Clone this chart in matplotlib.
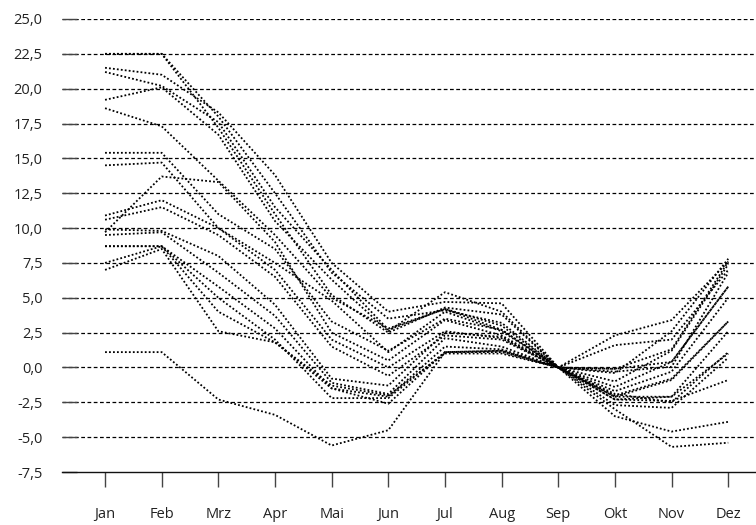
import matplotlib
matplotlib.use("Agg")
import matplotlib.pyplot as plt
from matplotlib.ticker import FuncFormatter

plt.rcParams['font.family'] = ['Open Sans', 'DejaVu Sans']

months = ["Jan", "Feb", "Mrz", "Apr", "Mai", "Jun", "Jul", "Aug", "Sep", "Okt", "Nov", "Dez"]

s01 = [22.5, 22.5, 17.2, 11.0, 5.2, 2.5, 4.3, 3.8, 0, -0.4, 2.6, 7.8]
s02 = [21.5, 21.0, 18.3, 13.8, 7.5, 4.0, 4.7, 4.6, 0, 2.3, 3.4, 7.6]
s03 = [21.2, 20.2, 17.6, 11.5, 7.0, 2.7, 4.2, 3.0, 0, -1.0, 1.2, 7.4]
s04 = [19.2, 20.1, 16.7, 10.5, 6.3, 2.6, 5.4, 4.0, 0, 1.6, 2.0, 7.0]
s05 = [22.5, 22.5, 18.0, 12.5, 6.8, 3.5, 4.1, 3.2, 0, -0.1, 1.3, 7.6]
s06 = [18.6, 17.3, 13.4, 9.5, 5.0, 2.8, 4.2, 2.7, 0, -1.4, 0.4, 5.8]
s07 = [15.4, 15.4, 11.0, 8.5, 3.3, 1.2, 3.5, 2.7, 0, -1.7, -0.3, 5.0]
s08 = [14.5, 14.7, 10.0, 7.5, 4.8, 1.1, 4.0, 2.6, 0, -0.3, 0.05, 6.8]
s09 = [9.7, 13.7, 13.3, 9.0, 2.5, 0.5, 3.4, 2.3, 0, -2.1, -0.9, 3.3]
s10 = [10.9, 12.0, 10.0, 7.0, 2.0, 0.0, 2.6, 2.1, 0, -2.3, -2.1, 2.6]
s11 = [10.6, 11.5, 9.5, 6.5, 1.5, -0.6, 2.3, 2.0, 0, -1.9, -2.5, 1.1]
s12 = [9.9, 9.8, 8.0, 4.5, -0.8, -1.3, 2.5, 2.2, 0, -2.7, -2.9, 0.7]
s13 = [9.5, 9.7, 6.8, 3.7, -1.1, -1.9, 2.1, 1.5, 0, -2.3, -2.4, -0.9]
s14 = [8.7, 8.7, 5.8, 2.8, -1.5, -2.1, 1.5, 1.3, 0, -2.1, -2.1, 1.0]
s15 = [8.7, 8.7, 5.0, 2.0, -2.2, -2.2, 1.1, 1.1, 0, -2.0, -0.8, 3.3]
s16 = [7.5, 8.7, 4.0, 1.8, -1.5, -2.6, 1.1, 1.2, 0, -3.5, -4.6, -3.9]
s17 = [7.0, 8.5, 2.6, 1.8, -1.3, -2.0, 1.0, 1.0, 0, -3.0, -5.7, -5.4]
s18 = [1.1, 1.1, -2.3, -3.4, -5.6, -4.5, 1.1, 1.2, 0, -0.1, 0.4, 5.8]

series = [s01, s02, s03, s04, s05, s06, s07, s08, s09, s10, s11, s12,
          s13, s14, s15, s16, s17, s18]

yticks = [-7.5, -5.0, -2.5, 0.0, 2.5, 5.0, 7.5, 10.0, 12.5, 15.0, 17.5, 20.0, 22.5, 25.0]

fig = plt.figure(figsize=(7.56, 5.25), dpi=100)
ax = fig.add_axes([62/756, 1 - 472/525, (756 - 62)/756, (472 - 19)/525])

x = list(range(len(months)))
for s in series:
    ax.plot(x, s, color='black', linestyle=(0, (1, 1.2)), linewidth=1.3, zorder=3)

ax.set_xlim(-0.76, 11.49)
ax.set_ylim(-7.5, 25.0)
ax.set_yticks(yticks)
ax.yaxis.set_major_formatter(FuncFormatter(lambda v, p: f"{v:.1f}".replace('.', ',')))
ax.set_xticks(x)
ax.set_xticklabels(months)

for v in yticks[1:]:
    ax.axhline(v, color='black', linestyle=(0, (3, 2)), linewidth=0.9, zorder=1)

for sp in ['top', 'right', 'left']:
    ax.spines[sp].set_visible(False)
ax.spines['bottom'].set_linewidth(1.0)
ax.spines['bottom'].set_color('#111111')

ax.tick_params(axis='y', direction='in', length=11, width=1.0, color='#444444',
               pad=14, labelsize=10.5, labelcolor='#222222')
ax.tick_params(axis='x', direction='out', length=11, width=1.0, color='#444444',
               pad=14, labelsize=10.5, labelcolor='#222222')

fig.savefig("out.png", dpi=100)
